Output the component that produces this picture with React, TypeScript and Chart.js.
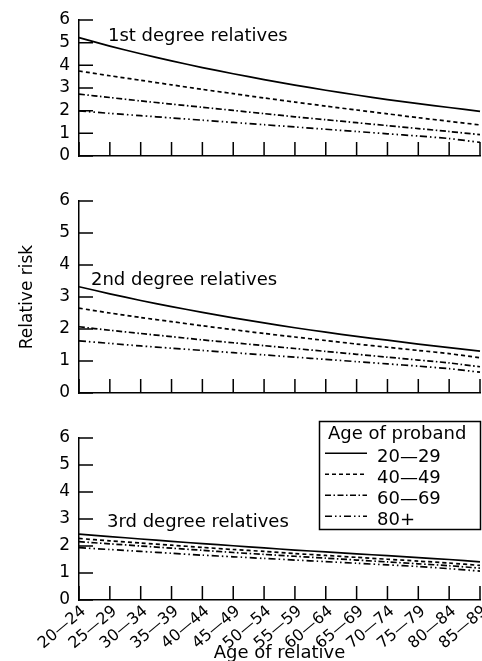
import React, { useEffect, useRef } from 'react';
import { Chart, registerables } from 'chart.js';

Chart.register(...registerables);

// ---------- data ----------
const ageOfRelative = [
  '20—24', '25—29', '30—34', '35—39', '40—44', '45—49', '50—54',
  '55—59', '60—64', '65—69', '70—74', '75—79', '80—84', '85—89',
];
const probandGroups = ['20—29', '40—49', '60—69', '80+'];
const legendTitle = 'Age of proband';
const yTickMin = 0;
const yTickMax = 6;

// 1st degree relatives
const first2029 = [5.22, 4.85, 4.51, 4.2, 3.9, 3.63, 3.37, 3.13, 2.9, 2.69, 2.49, 2.31, 2.14, 1.97];
const first4049 = [3.75, 3.54, 3.34, 3.14, 2.94, 2.75, 2.56, 2.38, 2.2, 2.03, 1.86, 1.69, 1.53, 1.37];
const first6069 = [2.73, 2.58, 2.43, 2.29, 2.15, 2.01, 1.87, 1.73, 1.6, 1.47, 1.34, 1.21, 1.08, 0.94];
const first80 = [1.99, 1.88, 1.78, 1.68, 1.58, 1.48, 1.38, 1.28, 1.18, 1.08, 0.98, 0.88, 0.77, 0.6];

// 2nd degree relatives
const second2029 = [3.32, 3.1, 2.89, 2.7, 2.52, 2.35, 2.19, 2.04, 1.9, 1.77, 1.65, 1.53, 1.42, 1.31];
const second4049 = [2.65, 2.5, 2.36, 2.23, 2.1, 1.98, 1.86, 1.75, 1.64, 1.53, 1.43, 1.33, 1.23, 1.1];
const second6069 = [2.07, 1.96, 1.86, 1.76, 1.66, 1.57, 1.48, 1.39, 1.3, 1.21, 1.12, 1.03, 0.94, 0.82];
const second80 = [1.63, 1.55, 1.47, 1.4, 1.33, 1.26, 1.19, 1.12, 1.05, 0.98, 0.91, 0.84, 0.76, 0.65];

// 3rd degree relatives
const third2029 = [2.44, 2.35, 2.26, 2.17, 2.09, 2.01, 1.93, 1.85, 1.78, 1.71, 1.64, 1.57, 1.5, 1.41];
const third4049 = [2.28, 2.19, 2.11, 2.03, 1.95, 1.87, 1.8, 1.72, 1.65, 1.58, 1.51, 1.44, 1.37, 1.28];
const third6069 = [2.16, 2.08, 2.0, 1.92, 1.84, 1.76, 1.69, 1.62, 1.55, 1.48, 1.41, 1.34, 1.27, 1.18];
const third80 = [1.94, 1.87, 1.8, 1.73, 1.66, 1.6, 1.54, 1.48, 1.42, 1.36, 1.3, 1.24, 1.16, 1.07];

// ---------- styles ----------
const FONT = "'DejaVu Sans', sans-serif";
const DASHES: number[][] = [[], [4, 3], [6, 2.5, 1.5, 2.5], [7, 3, 1.5, 3, 1.5, 3]];

const innerTicks = {
  id: 'innerTicks',
  afterDraw(chart: any) {
    const { ctx } = chart;
    const x = chart.scales.x;
    const y = chart.scales.y;
    ctx.save();
    ctx.strokeStyle = '#000';
    ctx.lineWidth = 1.5;
    ctx.beginPath();
    x.ticks.forEach((_: any, i: number) => {
      const px = x.getPixelForTick(i);
      ctx.moveTo(px, y.bottom);
      ctx.lineTo(px, y.bottom - 14);
    });
    y.ticks.forEach((_: any, i: number) => {
      const py = y.getPixelForTick(i);
      ctx.moveTo(x.left, py);
      ctx.lineTo(x.left + 14, py);
    });
    ctx.stroke();
    ctx.restore();
  },
};

const panelText = {
  id: 'panelText',
  afterDraw(chart: any, _args: any, opts: any) {
    if (!opts || !opts.text) return;
    const { ctx } = chart;
    ctx.save();
    ctx.fillStyle = '#000';
    ctx.font = `18px ${FONT}`;
    ctx.textBaseline = 'alphabetic';
    ctx.textAlign = 'left';
    ctx.fillText(opts.text, opts.x, opts.y);
    ctx.restore();
  },
};

const boxLegend = {
  id: 'boxLegend',
  afterDraw(chart: any, _args: any, opts: any) {
    if (!opts || !opts.show) return;
    const { ctx } = chart;
    ctx.save();
    ctx.strokeStyle = '#000';
    ctx.lineWidth = 1.5;
    ctx.setLineDash([]);
    ctx.strokeRect(319.5, 11.5, 161, 108);
    ctx.fillStyle = '#000';
    ctx.font = `18px ${FONT}`;
    ctx.textBaseline = 'alphabetic';
    ctx.textAlign = 'left';
    ctx.fillText(legendTitle, 328, 28.5);
    chart.data.datasets.forEach((ds: any, i: number) => {
      const base = 51.7 + 21 * i;
      ctx.beginPath();
      ctx.setLineDash(ds.borderDash || []);
      ctx.lineWidth = 1.5;
      ctx.moveTo(325, base - 8.5);
      ctx.lineTo(367, base - 8.5);
      ctx.stroke();
      ctx.setLineDash([]);
      ctx.fillText(ds.label, 377, base);
    });
    ctx.restore();
  },
};

type PanelProps = {
  top: number;
  height: number;
  padTop: number;
  padBottom: number;
  series: number[][];
  label: string;
  labelX: number;
  labelY: number;
  xLabels?: boolean;
  yTitle?: boolean;
  legend?: boolean;
};

function Panel(p: PanelProps) {
  const ref = useRef<HTMLCanvasElement>(null);
  useEffect(() => {
    if (!ref.current) return;
    const chart = new Chart(ref.current, {
      type: 'line',
      data: {
        labels: ageOfRelative,
        datasets: p.series.map((d, i) => ({
          label: probandGroups[i],
          data: d,
          borderColor: '#000',
          borderWidth: 1.7,
          borderDash: DASHES[i],
          pointRadius: 0,
          tension: 0.25,
          fill: false,
        })),
      },
      options: {
        responsive: false,
        animation: false,
        devicePixelRatio: 1,
        layout: { padding: { top: p.padTop, bottom: p.padBottom, left: 0, right: 2 } },
        plugins: {
          legend: { display: false },
          tooltip: { enabled: false },
          panelText: { text: p.label, x: p.labelX, y: p.labelY },
          boxLegend: { show: !!p.legend },
        } as any,
        scales: {
          x: {
            type: 'category',
            offset: false,
            grid: { display: false, drawTicks: false },
            border: { display: true, color: '#000', width: 1.5 },
            ticks: {
              display: !!p.xLabels,
              autoSkip: false,
              minRotation: 40,
              maxRotation: 40,
              padding: 2,
              labelOffset: 5,
              color: '#000',
              font: { family: FONT, size: 16 },
            },
            title: {
              display: !!p.xLabels,
              text: 'Age of relative',
              color: '#000',
              font: { family: FONT, size: 18, lineHeight: 0.8 },
              padding: 0,
            },
            afterFit: (s: any) => {
              s.height = p.xLabels ? 61 : 0;
              s.paddingLeft = 0;
              s.paddingRight = 0;
            },
          },
          y: {
            min: yTickMin,
            max: yTickMax,
            ticks: {
              stepSize: 1,
              autoSkip: false,
              padding: 9,
              color: '#000',
              font: { family: FONT, size: 17 },
            },
            grid: { display: false, drawTicks: false },
            border: { display: true, color: '#000', width: 1.5 },
            title: {
              display: !!p.yTitle,
              text: 'Relative risk',
              color: '#000',
              font: { family: FONT, size: 17 },
              padding: { top: 17, bottom: 0 },
            },
            afterFit: (s: any) => {
              s.width = 79;
              s.paddingTop = 0;
              s.paddingBottom = 0;
            },
          },
        },
      } as any,
      plugins: [innerTicks, panelText, boxLegend],
    });
    return () => chart.destroy();
  }, []);
  return (
    <canvas
      ref={ref}
      width={482}
      height={p.height}
      style={{ position: 'absolute', left: 0, top: p.top, width: 482, height: p.height }}
    />
  );
}

export default function App() {
  return (
    <div
      style={{
        position: 'fixed',
        left: 0,
        top: 0,
        width: 482,
        height: 661,
        background: '#fff',
        overflow: 'hidden',
      }}
    >
      <Panel
        top={0}
        height={175}
        padTop={20}
        padBottom={19}
        series={[first2029, first4049, first6069, first80]}
        label="1st degree relatives"
        labelX={108}
        labelY={41}
      />
      <Panel
        top={180}
        height={225}
        padTop={21}
        padBottom={12}
        series={[second2029, second4049, second6069, second80]}
        label="2nd degree relatives"
        labelX={91}
        labelY={104.5}
        yTitle
      />
      <Panel
        top={410}
        height={251}
        padTop={28}
        padBottom={0}
        series={[third2029, third4049, third6069, third80]}
        label="3rd degree relatives"
        labelX={107}
        labelY={116.5}
        xLabels
        legend
      />
    </div>
  );
}
